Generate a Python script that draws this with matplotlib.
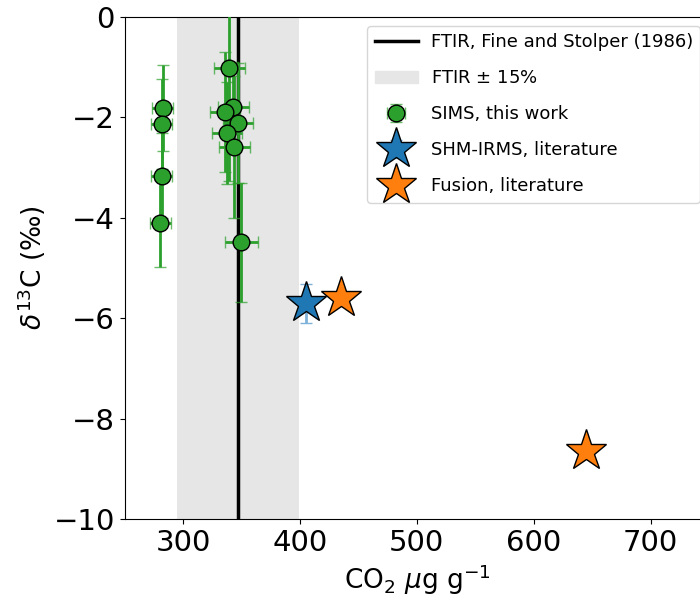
import numpy as np
import matplotlib
matplotlib.use("Agg")
import matplotlib.pyplot as plt
from matplotlib.patches import Patch

# FTIR reference value (Fine and Stolper 1986)
ftir_co2 = 347
ftir_band = 0.15

# SIMS, this work
sims_co2 = [282.6, 281.8, 281.8, 280.4, 339.7, 343.0, 336.0, 346.8, 337.7, 344.0, 349.7]
sims_d13c = [-1.81, -2.13, -3.16, -4.11, -1.01, -1.79, -1.89, -2.11, -2.31, -2.59, -4.49]
sims_co2_err = [9, 9, 9, 9, 13, 13, 13, 13, 13, 13, 14]
sims_d13c_err = [0.85, 0.89, 0.85, 0.87, 2.25, 0.9, 1.2, 1.2, 1.02, 1.41, 1.18]

# SHM-IRMS, literature
shm_co2 = [405.5]
shm_d13c = [-5.7]
shm_d13c_err = [0.39]

# Fusion, literature
fus_co2 = [435.4, 644.8]
fus_d13c = [-5.6, -8.64]

fig = plt.figure(figsize=(7.0, 5.99), dpi=100)
ax = fig.add_axes([0.178, 0.1336, 0.835, 0.838])

ax.axvspan(ftir_co2 * (1 - ftir_band), ftir_co2 * (1 + ftir_band), color="0.9", lw=0, zorder=0)
ftir_line = ax.axvline(ftir_co2, color="k", lw=2.5, zorder=1)

sims = ax.errorbar(sims_co2, sims_d13c, xerr=sims_co2_err, yerr=sims_d13c_err, fmt="o",
                   color="tab:green", ms=12, mec="k", mew=1, ecolor="tab:green",
                   elinewidth=2, capsize=4, zorder=3)
for c in sims[1]:
    c.set_alpha(0.7)

shm = ax.errorbar(shm_co2, shm_d13c, yerr=shm_d13c_err, fmt="*", color="tab:blue", ms=31,
                  mec="k", mew=1, ecolor="#7fb2d9", elinewidth=2, capsize=4, zorder=4)
fus, = ax.plot(fus_co2, fus_d13c, "*", color="tab:orange", ms=31, mec="k", mew=1,
               ls="none", zorder=4)

ax.set_xlim(250, 750)
ax.set_ylim(-10, 0)
ax.set_xticks([300, 400, 500, 600, 700])
ax.set_yticks([0, -2, -4, -6, -8, -10])
ax.tick_params(labelsize=21)
ax.set_xlabel(r"CO$_2$ $\mu$g g$^{-1}$", fontsize=19)
ax.set_ylabel(r"$\delta^{13}$C (‰)", fontsize=19)

ax.legend([ftir_line, Patch(color="0.9"), sims, shm, fus],
          ["FTIR, Fine and Stolper (1986)", "FTIR $\\pm$ 15%", "SIMS, this work",
           "SHM-IRMS, literature", "Fusion, literature"],
          loc="upper right", fontsize=13, labelspacing=1.0, handlelength=2.4,
          handletextpad=0.7)

fig.savefig("out.png", dpi=100)
